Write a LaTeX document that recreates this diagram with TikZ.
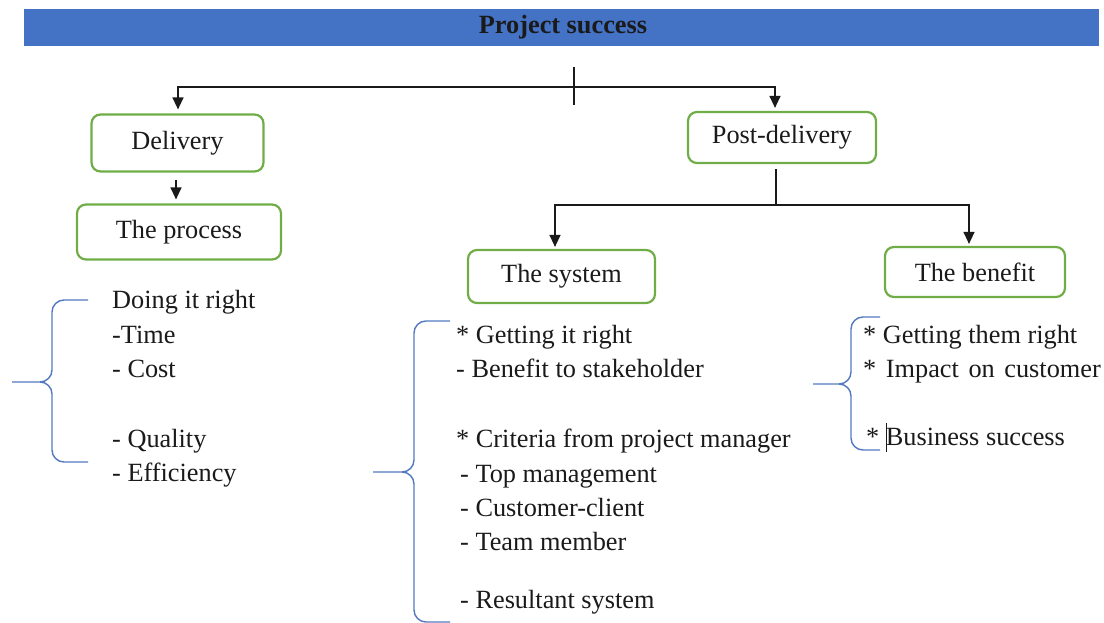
\documentclass[tikz,border=0pt]{standalone}
\usepackage{fontspec}
\setmainfont{Liberation Serif}
\usetikzlibrary{arrows.meta}
\definecolor{barblue}{HTML}{4472C4}
\definecolor{boxgreen}{HTML}{70AD47}
\definecolor{braceblue}{HTML}{5479C0}
\definecolor{ink}{HTML}{1A1A1A}
\tikzset{
  every node/.style={font=\fontsize{26.3}{31}\selectfont, text=ink},
  stagebox/.style={draw=boxgreen, line width=2.2pt, rounded corners=9pt, inner sep=0pt},
  link/.style={draw=ink, line width=1.3pt},
  arr/.style={link, -{Triangle[length=12pt,width=11pt]}},
  bracket/.style={draw=braceblue, line width=1.4pt},
  item/.style={anchor=base west, inner sep=0pt},
}
\begin{document}
\begin{tikzpicture}[x=1pt, y=-1pt]
\useasboundingbox (0,0) rectangle (1104,623);

% title bar
\fill[barblue] (24,9) rectangle (1099,46);
\node[font=\fontsize{26.3}{31}\selectfont\bfseries, anchor=base] (title) at (563,34) {Project success};

% stage boxes
\node[stagebox, minimum width=172pt, minimum height=57pt] (deliv)   at (177.5,143) {Delivery};
\node[stagebox, minimum width=204pt, minimum height=55pt] (process) at (179,232)   {The process};
\node[stagebox, minimum width=188pt, minimum height=51pt] (post)    at (782,137.5) {Post-delivery};
\node[stagebox, minimum width=187pt, minimum height=53pt] (system)  at (561.5,276.5) {The system};
\node[stagebox, minimum width=180pt, minimum height=50pt] (benefit) at (975,272)   {The benefit};

% top split
\coordinate (hub)  at (574,87);
\coordinate (tickA) at (574,67);
\coordinate (tickB) at (574,105);
\draw[link] (tickA) -- (tickB);
\draw[arr] (hub) -| ([xshift=0.5pt,yshift=4pt]deliv.north);
\draw[arr] (hub) -| ([xshift=-7pt,yshift=3pt]post.north);

% delivery to process
\draw[arr] ([xshift=-1.5pt,yshift=-7pt]deliv.south) -- ([xshift=-3pt,yshift=4pt]process.north);

% post-delivery split
\coordinate (split) at (776,205);
\draw[link] ([xshift=-6pt,yshift=-5pt]post.south) -- (split);
\draw[arr] (split) -| ([xshift=-6.5pt,yshift=2pt]system.north);
\draw[arr] (split) -| ([xshift=-6pt,yshift=2pt]benefit.north);

% process criteria
\draw[bracket] (88,300) -- (64,300) to[out=180,in=90] (52,312) -- (52,370) to[out=-90,in=0] (40,382) -- (12,382);
\draw[bracket] (88,462) -- (64,462) to[out=180,in=-90] (52,450) -- (52,394) to[out=90,in=0] (40,382);
\node[item] (p1) at (112,308) {Doing it right};
\node[item] (p2) at (112,343) {-Time};
\node[item] (p3) at (112,377) {- Cost};
\node[item] (p4) at (112,447) {- Quality};
\node[item] (p5) at (112,481) {- Efficiency};

% system criteria
\draw[bracket] (450,321) -- (426,321) to[out=180,in=90] (414,333) -- (414,460) to[out=-90,in=0] (402,472) -- (373,472);
\draw[bracket] (450,622) -- (426,622) to[out=180,in=-90] (414,610) -- (414,484) to[out=90,in=0] (402,472);
\node[item] (s1) at (456,343) {* Getting it right};
\node[item] (s2) at (456,377) {- Benefit to stakeholder};
\node[item] (s3) at (456,447) {* Criteria from project manager};
\node[item] (s4) at (460,482) {- Top management};
\node[item] (s5) at (460,516) {- Customer-client};
\node[item] (s6) at (460,550) {- Team member};
\node[item] (s7) at (460,608) {- Resultant system};

% benefit criteria
\draw[bracket] (880,317) -- (863,317) to[out=180,in=90] (851,329) -- (851,372) to[out=-90,in=0] (839,384) -- (813,384);
\draw[bracket] (880,450) -- (863,450) to[out=180,in=-90] (851,438) -- (851,396) to[out=90,in=0] (839,384);
\node[item] (b1) at (863,343) {* Getting them right};
\node[item] (b2) at (863,377) {* \hspace{3pt}Impact \hspace{3pt}on \hspace{3pt}customer};
\node[item] (b3) at (866,445) {* Business success};
\draw[ink, line width=0.8pt] (886,423) -- (886,452);
\end{tikzpicture}
\end{document}
